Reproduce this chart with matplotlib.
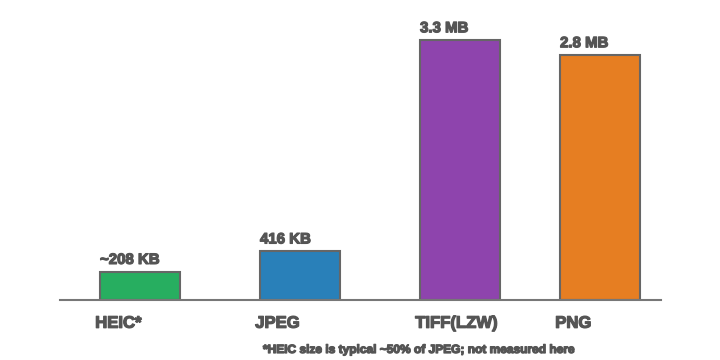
import matplotlib
matplotlib.use("Agg")
import matplotlib.pyplot as plt
import matplotlib.patheffects as pe

# data
formats = ["HEIC*", "JPEG", "TIFF(LZW)", "PNG"]
size_labels = ["~208 KB", "416 KB", "3.3 MB", "2.8 MB"]
bar_heights = [0.36, 0.62, 3.3, 3.11]   # bar heights as drawn
positions = [0, 1, 2, 2.875]
colors = ["#27ae60", "#2980b9", "#8e44ad", "#e67e22"]
footnote = "*HEIC size is typical ~50% of JPEG; not measured here"

plt.rcParams['font.family'] = ['Liberation Sans', 'DejaVu Sans']
txt = "#555555"
heavy = [pe.withStroke(linewidth=0.9, foreground=txt)]

fig = plt.figure(figsize=(7.2, 3.6), dpi=100)
ax = fig.add_axes([60/720, 60/360, 601/720, 300/360])

w = 0.5
ax.bar(positions, bar_heights, width=w, color=colors, edgecolor="#666666", linewidth=1.5, zorder=2)

for x, h, lab in zip(positions, bar_heights, size_labels):
    ax.text(x - w/2, h + 0.06, lab, ha="left", va="bottom", fontsize=10.8,
            fontweight="bold", color=txt, path_effects=heavy)

ax.set_xlim(-0.5, 3.256)
ax.set_ylim(0, 3.3 * 300 / 260)

for s in ["top", "right", "left"]:
    ax.spines[s].set_visible(False)
ax.spines["bottom"].set_color("#777777")
ax.spines["bottom"].set_linewidth(1.5)
ax.set_yticks([])
ax.set_xticks(positions)
ax.set_xticklabels([])
ax.tick_params(axis="x", length=0)

for x, lab in zip(positions, formats):
    ax.text(x - w/2 - 0.03, -0.2, lab, ha="left", va="top", fontsize=12,
            fontweight="bold", color=txt, path_effects=heavy)

fig.text(418/720, 1 - 350/360, footnote, ha="center", va="center", fontsize=8.6,
         fontweight="bold", color=txt, path_effects=heavy)

fig.savefig("out.png", dpi=100, facecolor="white")
